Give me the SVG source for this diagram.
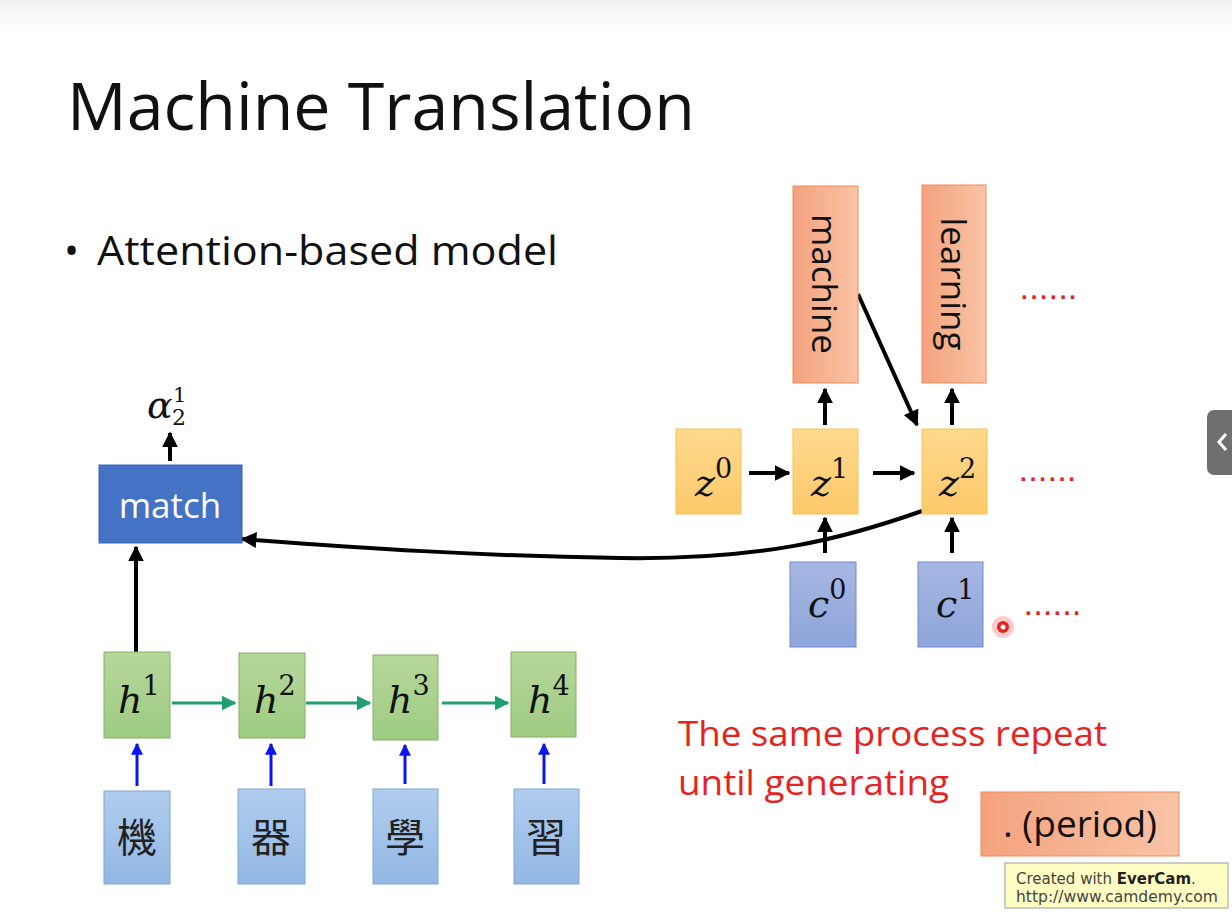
<svg xmlns="http://www.w3.org/2000/svg" width="1232" height="916" viewBox="0 0 1232 916">
<defs>
<linearGradient id="bgtop" x1="0" y1="0" x2="0" y2="1"><stop offset="0" stop-color="#f1f1f1"/><stop offset="1" stop-color="#ffffff"/></linearGradient>
<linearGradient id="gOrange" x1="0" y1="0" x2="1" y2="0"><stop offset="0" stop-color="#f4a27e"/><stop offset="1" stop-color="#f9c4a6"/></linearGradient>
<linearGradient id="gGold" x1="0" y1="0" x2="0" y2="1"><stop offset="0" stop-color="#ffd98e"/><stop offset="1" stop-color="#fcc96a"/></linearGradient>
<linearGradient id="gC" x1="0" y1="0" x2="0" y2="1"><stop offset="0" stop-color="#a6b8e2"/><stop offset="1" stop-color="#8ea5da"/></linearGradient>
<linearGradient id="gGreen" x1="0" y1="0" x2="0" y2="1"><stop offset="0" stop-color="#b5d79b"/><stop offset="1" stop-color="#9fcb82"/></linearGradient>
<linearGradient id="gBlue" x1="0" y1="0" x2="0" y2="1"><stop offset="0" stop-color="#b0cdee"/><stop offset="1" stop-color="#93b7e4"/></linearGradient>
<marker id="ahBlack" viewBox="0 0 10 10" refX="9" refY="5" markerWidth="4" markerHeight="4" orient="auto"><path d="M0,0 L10,5 L0,10 z" fill="#000"/></marker>
<marker id="ahGreen" viewBox="0 0 10 10" refX="9" refY="5" markerWidth="5" markerHeight="5" orient="auto"><path d="M0,0 L10,5 L0,10 z" fill="#1f9e6e"/></marker>
<marker id="ahBlue" viewBox="0 0 10 10" refX="9" refY="5" markerWidth="4" markerHeight="4" orient="auto"><path d="M0,0 L10,5 L0,10 z" fill="#0a14f0"/></marker>
</defs>
<style>
.sans{font-family:"Open Sans","Liberation Sans",sans-serif;}
.math{font-family:"DejaVu Serif","Liberation Serif",serif;font-style:italic;font-size:38px;fill:#111;}
.sup{font-style:normal;font-size:27px;}
.ora{fill:url(#gOrange);stroke:#f08c5c;stroke-width:1;}
.gold{fill:url(#gGold);stroke:#f6c350;stroke-width:1;}
.cbox{fill:url(#gC);stroke:#6f8cc9;stroke-width:1;}
.hbox{fill:url(#gGreen);stroke:#86b066;stroke-width:1;}
.chbox{fill:url(#gBlue);stroke:#7fa6d6;stroke-width:1;}
.blk{stroke:#000;stroke-width:4;fill:none;marker-end:url(#ahBlack);}
.grn{stroke:#1f9e6e;stroke-width:3;fill:none;marker-end:url(#ahGreen);}
.blu{stroke:#0a14f0;stroke-width:3;fill:none;marker-end:url(#ahBlue);}
.dots{fill:#e8221e;font-family:"Liberation Sans",sans-serif;font-size:24px;font-weight:bold;letter-spacing:3px;}
.cjk{font-family:"Liberation Serif","Noto Sans CJK TC",serif;font-size:40px;fill:#222;}
</style>
<rect width="1232" height="916" fill="#fff"/>
<rect width="1232" height="32" fill="url(#bgtop)"/>

<text class="sans" x="67" y="130" font-size="66" fill="#111" textLength="628" lengthAdjust="spacingAndGlyphs">Machine Translation</text>
<text class="sans" x="64" y="265" font-size="40" fill="#111">•</text>
<text class="sans" x="97" y="265" font-size="40" fill="#111" textLength="461" lengthAdjust="spacingAndGlyphs">Attention-based model</text>

<g id="connectors">
<line class="blk" x1="170" y1="461" x2="170" y2="433"/>
<line class="blk" x1="136" y1="652" x2="136" y2="547"/>
<path class="blk" d="M922,511 C840,540 760,560 620,558 C480,556 360,548 242,539"/>
<line class="blk" x1="858" y1="294" x2="917" y2="425"/>
<line class="blk" x1="749" y1="473" x2="789" y2="473"/>
<line class="blk" x1="873" y1="473" x2="914" y2="473"/>
<line class="blk" x1="825" y1="425" x2="825" y2="389"/>
<line class="blk" x1="952" y1="425" x2="952" y2="389"/>
<line class="blk" x1="825" y1="553" x2="825" y2="518"/>
<line class="blk" x1="952" y1="553" x2="952" y2="518"/>
<line class="grn" x1="172" y1="703" x2="235" y2="703"/>
<line class="grn" x1="306" y1="703" x2="370" y2="703"/>
<line class="grn" x1="442" y1="703" x2="508" y2="703"/>
<line class="blu" x1="137" y1="786" x2="137" y2="744"/>
<line class="blu" x1="271" y1="786" x2="271" y2="744"/>
<line class="blu" x1="405" y1="784" x2="405" y2="745"/>
<line class="blu" x1="544" y1="784" x2="544" y2="744"/>
</g>

<g id="alpha">
<text class="math" x="147" y="418" font-size="32">α</text>
<text x="173" y="402" font-family="DejaVu Serif,serif" font-size="21" fill="#111">1</text>
<text x="172" y="425" font-family="DejaVu Serif,serif" font-size="22" fill="#111">2</text>
</g>
<g id="match"><rect x="99" y="465" width="143" height="78" fill="#4472c4" stroke="#3a62ad"/><text class="sans" x="170" y="518" font-size="35" fill="#fff" text-anchor="middle">match</text></g>

<g id="machine"><rect class="ora" x="793" y="186" width="65" height="197"/><text class="sans" transform="translate(812,284) rotate(90)" font-size="35" fill="#111" text-anchor="middle">machine</text></g>
<g id="learning"><rect class="ora" x="922" y="185" width="64" height="198"/><text class="sans" transform="translate(941,284) rotate(90)" font-size="35" fill="#111" text-anchor="middle">learning</text></g>

<g id="z0"><rect class="gold" x="676" y="429" width="65" height="85"/><text class="math" x="695" y="496">z<tspan class="sup" dy="-18">0</tspan></text></g>
<g id="z1"><rect class="gold" x="793" y="429" width="65" height="85"/><text class="math" x="811" y="496">z<tspan class="sup" dy="-18">1</tspan></text></g>
<g id="z2"><rect class="gold" x="922" y="429" width="65" height="85"/><text class="math" x="939" y="496">z<tspan class="sup" dy="-18">2</tspan></text></g>

<g id="c0"><rect class="cbox" x="790" y="562" width="66" height="85"/><text class="math" x="808" y="617">c<tspan class="sup" dy="-18">0</tspan></text></g>
<g id="c1"><rect class="cbox" x="918" y="562" width="65" height="85"/><text class="math" x="936" y="617">c<tspan class="sup" dy="-18">1</tspan></text></g>

<g id="dots1"><text class="dots" x="1021" y="299">......</text></g>
<g id="dots2"><text class="dots" x="1020" y="481">......</text></g>
<g id="dots3"><text class="dots" x="1025" y="615">......</text></g>

<g id="cursor"><circle cx="1003" cy="627" r="11" fill="#ff6b6b" opacity="0.35"/><circle cx="1003" cy="627" r="6" fill="#e8221e"/><circle cx="1003" cy="627" r="2.5" fill="#fff"/></g>

<g id="h1"><rect class="hbox" x="104" y="652" width="66" height="86"/><text class="math" x="118" y="713">h<tspan class="sup" dy="-18">1</tspan></text></g>
<g id="h2"><rect class="hbox" x="239" y="653" width="66" height="85"/><text class="math" x="254" y="713">h<tspan class="sup" dy="-18">2</tspan></text></g>
<g id="h3"><rect class="hbox" x="373" y="655" width="65" height="85"/><text class="math" x="388" y="713">h<tspan class="sup" dy="-18">3</tspan></text></g>
<g id="h4"><rect class="hbox" x="511" y="652" width="65" height="85"/><text class="math" x="528" y="713">h<tspan class="sup" dy="-18">4</tspan></text></g>

<g id="ch1"><rect class="chbox" x="104" y="791" width="66" height="93"/><text class="cjk" x="137" y="852" text-anchor="middle">機</text></g>
<g id="ch2"><rect class="chbox" x="238" y="789" width="67" height="95"/><text class="cjk" x="271" y="852" text-anchor="middle">器</text></g>
<g id="ch3"><rect class="chbox" x="373" y="789" width="65" height="95"/><text class="cjk" x="405" y="852" text-anchor="middle">學</text></g>
<g id="ch4"><rect class="chbox" x="514" y="789" width="65" height="95"/><text class="cjk" x="546" y="852" text-anchor="middle">習</text></g>

<g id="note"><text class="sans" x="678" y="746" font-size="34" fill="#e8221e" textLength="429" lengthAdjust="spacingAndGlyphs">The same process repeat</text><text class="sans" x="678" y="795" font-size="34" fill="#e8221e" textLength="271" lengthAdjust="spacingAndGlyphs">until generating</text></g>
<g id="period"><rect class="ora" x="981" y="792" width="198" height="64"/><text class="sans" x="1080" y="837" font-size="37" fill="#111" text-anchor="middle">. (period)</text></g>

<g id="evercam"><rect x="1005" y="863" width="223" height="45" fill="#ffffc4" stroke="#9a9a9a"/><text x="1016" y="884" font-family="DejaVu Sans,sans-serif" font-size="15" fill="#444">Created with <tspan font-weight="bold" fill="#222">EverCam</tspan>.</text><text x="1016" y="902" font-family="DejaVu Sans,sans-serif" font-size="15" fill="#444" textLength="202" lengthAdjust="spacingAndGlyphs">http://www.camdemy.com</text></g>

<g id="tab"><rect x="1207" y="410" width="40" height="65" rx="7" fill="#6f6f6f"/><path d="M1226,434 L1219,442 L1226,450" stroke="#fff" stroke-width="3" fill="none"/></g>
</svg>
